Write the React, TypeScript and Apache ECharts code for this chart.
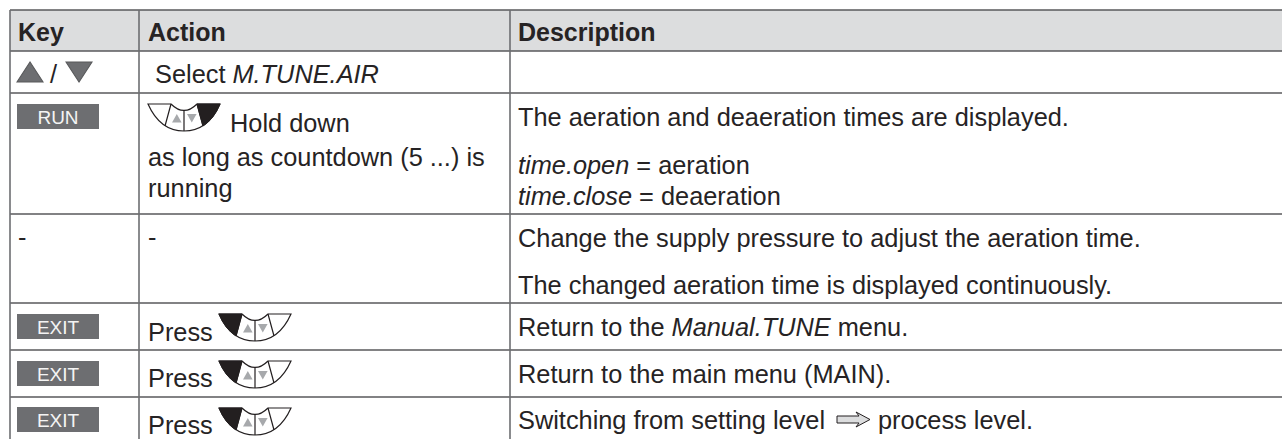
import React, { useEffect, useRef } from "react";
import * as echarts from "echarts";

const FONT = "Liberation Sans";
const INK = "#262324";
const LINE = "#58595b";
const KEY_FILL = "#6d6e71";
const FS = 25.35;

// Table content
const headers = ["Key", "Action", "Description"];
const actionLines = [
  "{n|Select }{i|M.TUNE.AIR}",
  "Hold down",
  "as long as countdown (5 ...) is",
  "running",
  "-",
  "Press",
  "Press",
  "Press",
];
const descriptionLines = [
  "The aeration and deaeration times are displayed.",
  "{i|time.open}{n| = aeration}",
  "{i|time.close}{n| = deaeration}",
  "Change the supply pressure to adjust the aeration time.",
  "The changed aeration time is displayed continuously.",
  "{n|Return to the }{i|Manual.TUNE}{n| menu.}",
  "Return to the main menu (MAIN).",
  "Switching from setting level",
  "process level.",
];
const keyLabels = ["RUN", "EXIT", "EXIT", "EXIT"];

// Registered shapes (local coordinates: icon is 72 wide, 27 high)
const OUTER = "M0 0 L23 0 Q36 13 49 0 L72 0 Q60 27 36 27 Q12 27 0 0 Z";
const SEG_L = "M0 0 L23 0 L17 22 Q6 15 0 0 Z";
const SEG_R = "M72 0 L49 0 L55 22 Q66 15 72 0 Z";
const DIVIDERS = "M23 0 L17 22 M49 0 L55 22 M36 6 L36 27";
const TRI_UP = "M0 10 L6 0 L12 10 Z";
const TRI_DOWN = "M0 0 L12 0 L6 10 Z";
const ARROW = "M0 4 L22 4 L19 0 L33 7.5 L19 15 L22 11 L0 11 Z";

function reg(name: string, d: string) {
  echarts.graphic.registerShape(name, (echarts.graphic as any).extendPath(d, {}));
}
reg("padOuter2", OUTER);
reg("padSegL", SEG_L);
reg("padSegR", SEG_R);
reg("padDiv", DIVIDERS);
reg("triUp", TRI_UP);
reg("triDown", TRI_DOWN);
reg("arrowR", ARROW);

const hLine = (y: number, w = 1.6) => ({
  type: "line", silent: true,
  shape: { x1: 10, y1: y, x2: 1282, y2: y },
  style: { stroke: LINE, lineWidth: w },
});
const vLine = (x: number) => ({
  type: "line", silent: true,
  shape: { x1: x, y1: 10, x2: x, y2: 439 },
  style: { stroke: "#6d6e71", lineWidth: 1.6 },
});
const txt = (x: number, y: number, text: string, extra: any = {}) => ({
  type: "text", silent: true, x, y,
  style: {
    text, fill: INK, fontFamily: FONT, fontSize: FS,
    verticalAlign: "middle", align: "left",
    rich: {
      n: { fontFamily: FONT, fontSize: FS, fill: INK },
      i: { fontFamily: FONT, fontSize: FS, fill: INK, fontStyle: "italic" },
    },
    ...extra,
  },
});
const keyBtn = (y: number, label: string) => [
  { type: "rect", silent: true, shape: { x: 17, y, width: 82, height: 25 }, style: { fill: KEY_FILL } },
  txt(58, y + 13, label, { align: "center", fill: "#f4f4f4", fontSize: 19 }),
];
const pad = (x: number, y: number, blackSide: "L" | "R") => {
  const p = (type: string, style: any, px = x, py = y, extra: any = {}) => ({ type, silent: true, x: px, y: py, style, ...extra });
  return [
    p("padOuter2", { fill: "#ffffff", stroke: "#231f20", lineWidth: 1.2 }),
    p(blackSide === "L" ? "padSegL" : "padSegR", { fill: "#231f20", stroke: "#231f20", lineWidth: 1 }),
    p("padDiv", { fill: "none", stroke: "#231f20", lineWidth: 1.2 }),
    p("triUp", { fill: "#a7a9ac" }, x + 24, y + 10, { scaleX: 0.8, scaleY: 0.85 }),
    p("triDown", { fill: "#a7a9ac" }, x + 39, y + 10, { scaleX: 0.8, scaleY: 0.85 }),
  ];
};

export default function App() {
  const ref = useRef<HTMLDivElement>(null);
  useEffect(() => {
    const chart = echarts.init(ref.current!, undefined, { renderer: "svg" });
    const bold = { fontWeight: "bold", fontSize: 25 };
    const elements: any[] = [
      { type: "rect", silent: true, shape: { x: 10, y: 10, width: 1272, height: 41 }, style: { fill: "#dcddde" } },
      hLine(10), hLine(51), hLine(93), hLine(214), hLine(303), hLine(350), hLine(397),
      vLine(10), vLine(139), vLine(510),
      txt(18, 32, headers[0], bold),
      txt(148, 32, headers[1], bold),
      txt(518, 32, headers[2], bold),
      { type: "triUp", silent: true, x: 17, y: 62, scaleX: 2.17, scaleY: 2, style: { fill: KEY_FILL, stroke: LINE, lineWidth: 0.5 } },
      txt(50, 74, "/"),
      { type: "triDown", silent: true, x: 66, y: 62, scaleX: 2.17, scaleY: 2, style: { fill: KEY_FILL, stroke: LINE, lineWidth: 0.5 } },
      txt(155, 74, actionLines[0]),
      ...keyBtn(104, keyLabels[0]),
      ...pad(148, 104, "R"),
      txt(230, 123, actionLines[1]),
      txt(148, 157, actionLines[2]),
      txt(148, 188, actionLines[3]),
      txt(18, 237, "-"),
      txt(148, 237, actionLines[4]),
      ...keyBtn(314, keyLabels[1]),
      txt(148, 332, actionLines[5]),
      ...pad(219, 314, "L"),
      ...keyBtn(361, keyLabels[2]),
      txt(148, 378, actionLines[6]),
      ...pad(219, 361, "L"),
      ...keyBtn(407, keyLabels[3]),
      txt(148, 425, actionLines[7]),
      ...pad(219, 408, "L"),
      txt(518, 117, descriptionLines[0]),
      txt(518, 165, descriptionLines[1]),
      txt(518, 196, descriptionLines[2]),
      txt(518, 238, descriptionLines[3]),
      txt(518, 285, descriptionLines[4]),
      txt(518, 327, descriptionLines[5]),
      txt(518, 374, descriptionLines[6]),
      txt(518, 420, descriptionLines[7]),
      { type: "arrowR", silent: true, x: 837, y: 412, style: { fill: "#dcddde", stroke: "#231f20", lineWidth: 1 } },
      txt(878, 420, descriptionLines[8]),
    ];
    chart.setOption({ animation: false, graphic: { elements } });
    return () => chart.dispose();
  }, []);
  return <div ref={ref} style={{ position: "absolute", left: 0, top: 0, width: 1282, height: 439, background: "#fff" }} />;
}
